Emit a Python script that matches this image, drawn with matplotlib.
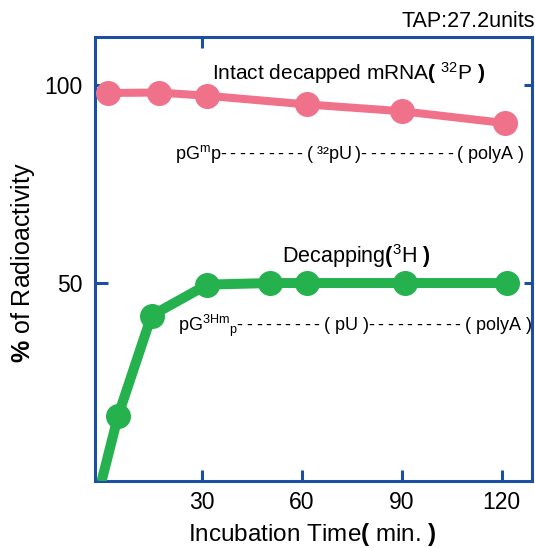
import matplotlib
matplotlib.use("Agg")
import matplotlib.pyplot as plt

plt.rcParams['font.family'] = ['Liberation Sans', 'DejaVu Sans']
plt.rcParams['mathtext.fontset'] = 'custom'
plt.rcParams['mathtext.rm'] = 'Liberation Sans'
plt.rcParams['mathtext.it'] = 'Liberation Sans:italic'
plt.rcParams['mathtext.bf'] = 'Liberation Sans:bold'
plt.rcParams['mathtext.sf'] = 'Liberation Sans'

# data
intact_time = [2.0, 17.3, 31.5, 61.7, 90.0, 121.0]
intact_pct = [97.9, 98.0, 97.2, 95.0, 93.3, 90.3]

decap_time = [0.0, 5.0, 15.0, 31.7, 50.5, 61.5, 91.0, 121.5]
decap_pct = [0.0, 16.6, 41.8, 49.6, 50.0, 50.0, 50.0, 50.0]

xticks = [30, 60, 90, 120]
yticks = [50, 100]

pink = '#f0728a'
green = '#25b24e'
blue = '#1a4fa3'

fig = plt.figure(figsize=(5.35, 5.48), dpi=100)
ax = fig.add_axes([0.1785, 0.1214, 0.8159, 0.8111])

ax.plot(intact_time, intact_pct, color=pink, lw=5.8, marker='o', ms=17,
        solid_capstyle='round', zorder=3)
ax.plot(decap_time, decap_pct, color=green, lw=7.2, marker='o', ms=17,
        markevery=list(range(1, len(decap_time))), solid_capstyle='butt',
        zorder=3)

ax.set_xlim(-1.8, 129.1)
ax.set_ylim(0, 112)
ax.set_xticks(xticks)
ax.set_yticks(yticks)
for s in ax.spines.values():
    s.set_color(blue)
    s.set_linewidth(2.2)

ax.tick_params(axis='x', direction='in', length=8, width=2.2, color=blue,
               labelsize=16.5, pad=7)
ax.tick_params(axis='y', direction='in', length=9.5, width=2.2, color=blue,
               labelsize=16.5, pad=9)

# right and top ticks
axr = ax.twinx()
axr.set_ylim(ax.get_ylim())
axr.set_yticks(yticks)
axr.tick_params(axis='y', direction='in', length=6, width=2.2, color=blue,
                labelright=False)
axt = ax.twiny()
axt.set_xlim(ax.get_xlim())
axt.set_xticks([30])
axt.tick_params(axis='x', direction='in', length=8, width=2.2, color=blue,
                labeltop=False)
for a in (axr, axt):
    for s in a.spines.values():
        s.set_visible(False)

ax.set_xlabel(r'Incubation Time$\mathbf{(}$ min. $\mathbf{)}$', fontsize=17.5,
              va='center')
ax.xaxis.set_label_coords(0.496, -0.12)
ax.set_ylabel(r'$\mathbf{\%}$ of Radioactivity', fontsize=18,
              va='center')
ax.yaxis.set_label_coords(-0.167, 0.4916)

dash = '-\u2009'
ax.text(33.1, 101.3, r'Intact decapped mRNA$\mathbf{(}$ $\mathregular{^{32}}$P $\mathbf{)}$',
        fontsize=15, ha='left', va='baseline')
ax.text(22.0, 81.2, r'pG$\mathregular{^{m}}$p' + dash * 9 + '(\u2009\u00b3\u00b2pU\u2009)'
        + dash * 10 + '( polyA )',
        fontsize=13, ha='left', va='baseline')
ax.text(54.0, 55.1, r'Decapping$\mathbf{(}$$\mathregular{^{3}}$H $\mathbf{)}$',
        fontsize=15.5, ha='left', va='baseline')
ax.text(22.9, 37.8, r'pG$\mathregular{^{3Hm}}$$\mathregular{_{p}}$' + dash * 9 + '( pU )'
        + dash * 10 + '( polyA )',
        fontsize=13, ha='left', va='baseline')

fig.text(401 / 535, 1 - 27 / 548, 'TAP:27.2units', fontsize=15.5,
         ha='left', va='baseline')

fig.savefig('out.png', dpi=100)
